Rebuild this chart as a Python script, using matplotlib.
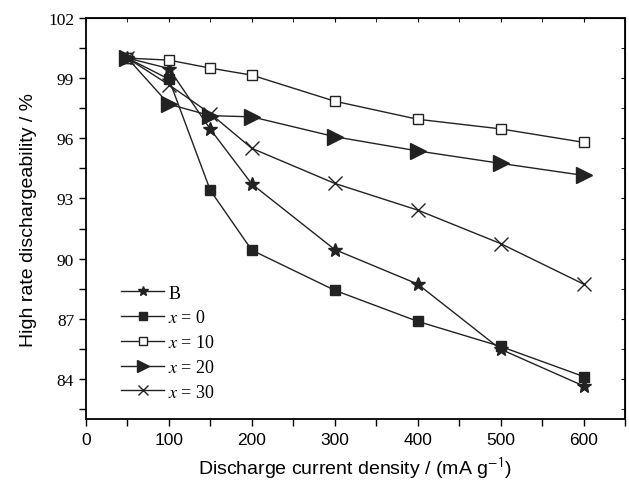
import numpy as np
from matplotlib import pyplot as plt
from matplotlib.ticker import MultipleLocator

plt.rcParams['mathtext.fontset'] = 'stix'

current = [50, 100, 150, 200, 300, 400, 500, 600]

hrd_B = [100.0, 99.48, 96.45, 93.72, 90.45, 88.73, 85.48, 83.65]
hrd_x0 = [100.0, 98.95, 93.4, 90.42, 88.42, 86.87, 85.62, 84.12]
hrd_x10 = [100.0, 99.9, 99.5, 99.15, 97.85, 96.95, 96.47, 95.8]
hrd_x20 = [100.0, 97.7, 97.13, 97.07, 96.08, 95.37, 94.75, 94.15]
hrd_x30 = [100.0, 98.67, 97.23, 95.5, 93.75, 92.42, 90.75, 88.73]

labels = ['B', '$x$ = 0', '$x$ = 10', '$x$ = 20', '$x$ = 30']
yticks = [84, 87, 90, 93, 96, 99, 102]

fig = plt.figure(figsize=(6.29, 4.81), dpi=100)
ax = fig.add_axes([0.1367, 0.1268, 0.8569, 0.8337])

lc = '#222222'
ax.plot(current, hrd_B, color=lc, lw=1, marker='*', ms=10, mfc=lc, mec=lc, label=labels[0])
ax.plot(current, hrd_x0, color=lc, lw=1, marker='s', ms=7, mfc=lc, mec=lc, label=labels[1])
ax.plot(current, hrd_x10, color=lc, lw=1, marker='s', ms=7, mfc='white', mec=lc, label=labels[2])
ax.plot(current, hrd_x20, color=lc, lw=1, marker='>', ms=11, mfc=lc, mec=lc, label=labels[3])
ax.plot(current, hrd_x30, color=lc, lw=1, marker='x', ms=10, mew=1, mec=lc, label=labels[4])

ax.set_xlim(0, 650)
ax.set_ylim(82, 102)
ax.xaxis.set_major_locator(MultipleLocator(100))
ax.xaxis.set_minor_locator(MultipleLocator(50))
ax.set_yticks(yticks)
ax.yaxis.set_minor_locator(MultipleLocator(1.5))
ax.set_xticks(range(0, 601, 100))

ax.tick_params(axis='both', which='both', direction='out', length=5, width=1)
ax.tick_params(axis='x', labelsize=12.5, pad=4)
ax.tick_params(axis='y', labelsize=12.5)
for lab in ax.get_yticklabels():
    lab.set_family('Liberation Serif')
for lab in ax.get_xticklabels():
    lab.set_family('Liberation Sans')

# inward ticks on top and right
sec_x = ax.secondary_xaxis('top')
sec_x.xaxis.set_major_locator(MultipleLocator(100))
sec_x.xaxis.set_minor_locator(MultipleLocator(50))
sec_x.tick_params(which='both', direction='in', length=3, labeltop=False)
sec_y = ax.secondary_yaxis('right')
sec_y.yaxis.set_major_locator(MultipleLocator(3))
sec_y.yaxis.set_minor_locator(MultipleLocator(1.5))
sec_y.tick_params(which='both', direction='in', length=3, labelright=False)

for s in ax.spines.values():
    s.set_linewidth(1.3)

ax.set_xlabel('Discharge current density / (mA g$^{\\mathsf{-1}}$)',
              family='Liberation Sans', fontsize=14, labelpad=6)
ax.set_ylabel('High rate dischargeability / %', family='Liberation Sans',
              fontsize=14, labelpad=8)

ax.legend(loc='lower left', bbox_to_anchor=(0.035, 0.005), frameon=False,
          prop={'family': 'Liberation Serif', 'size': 13},
          handlelength=2.4, handletextpad=0.2, labelspacing=0.43,
          markerscale=0.75)

fig.savefig('out.png', dpi=100)
